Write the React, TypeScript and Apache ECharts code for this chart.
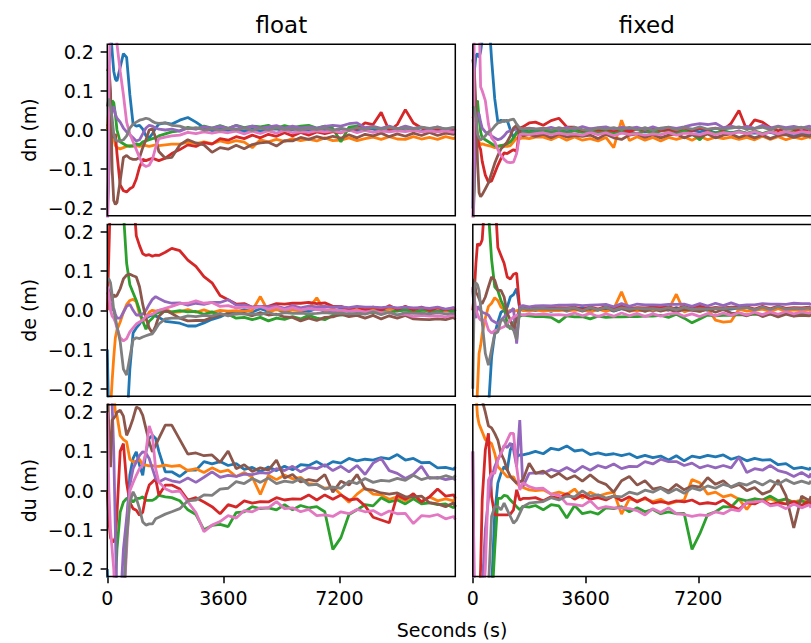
import React, { useEffect, useRef } from "react";
import * as echarts from "echarts";

// time stamps (s) shared by every series
const TIME_S = [
  0, 50, 100, 150, 200, 250, 300, 400, 500, 600, 700, 800, 900, 1000, 1100, 1200, 1300, 1400, 1500, 1600, 1800, 2000,
  2250, 2500, 2750, 3000, 3250, 3500, 3750, 4000, 4250, 4500, 4750, 5000, 5250, 5500, 5750, 6000, 6250, 6500, 6750, 7000,
  7250, 7500, 7750, 8000, 8250, 8500, 8750, 9000, 9250, 9500, 9750, 10000, 10250, 10500, 10750, 10800,
];

const COLUMN_TITLES = ["float", "fixed"];
const ROW_LABELS = ["dn (m)", "de (m)", "du (m)"];
const X_TICKS = [0, 3600, 7200];
const Y_TICKS = [-0.2, -0.1, 0, 0.1, 0.2];
const X_LABEL = "Seconds (s)";
const COLORS = ["#1f77b4", "#ff7f0e", "#2ca02c", "#d62728", "#9467bd", "#8c564b", "#e377c2", "#7f7f7f"];

// values in millimetres, one row per colour (blue, orange, green, red, purple, brown, pink, gray)
const FLOAT_DN_MM = [
  [300,300,260,200,150,130,125, 160,195,185,90,15, 10,12,2,-15,-20, -10,5,15,18,15, 25,32,20,6, -2,3,-3,2, -4,2,-3,1, 3,-2,1,4, -3,2,-1,-4, 3,-1,-2,4, 2,-3,-1,3, -2,1,-3,2, -1,3,-2,1],
  [0,60,40,10,-20,-40,-45, -48,-45,-42,-40,-42, -40,-42,-38,-40,-42, -40,-38,-40,-38,-36, -36,-31,-35,-30, -35,-28,-33,-27, -31,-45,-25,-30, -24,-29,-22,-27, -23,-28,-20,-27, -26,-20,-27,-22, -18,-24,-17,-23, -24,-17,-23,-19, -24,-17,-22,-19],
  [-200,-100,40,75,70,40,0, -30,-35,-40,-42,-40, -35,-38,-30,-28,-25, -22,-20,-15,-10,-5, -2,7,3,10, 5,11,4,12, 6,10,8,12, 4,11,6,10, 12,5,10,4, -30,7,10,4, 7,3,8,2, 8,2,7,1, 6,0,5,2],
  [10,15,5,-10,-20,-10,-60, -140,-155,-158,-150,-145, -125,-95,-75,-78,-75, -72,-75,-78,-72,-60, -50,-38,-42,-32, -36,-22,-26,-17, -22,-13,-20,-11, -16,-7,-15,-6, -13,-5,-9,-4, -7,0,3,18, 14,45,-2,14, 52,18,5,-4, 3,-5,4,-2],
  [-250,-100,20,50,60,40,30, 20,5,-5,-12,-20, -28,-25,-10,5,12, 10,5,2,0,2, -3,5,2,8, 5,9,4,11, 4,10,5,8, 11,4,10,5, 8,4,9,12, 10,16,18,6, 9,4,10,3, 10,4,7,2, 8,1,6,3],
  [150,160,100,-100,-180,-190,-185, -130,-70,-65,-72,-75, -75,-70,-45,-25,0, 3,-20,-55,-72,-70, -38,-25,-33,-38, -57,-45,-49,-39, -48,-37,-33,-31, -41,-27,-28,-19, -24,-17,-22,-16, -21,-12,-20,-11, -15,-8,-17,-10, -16,-8,-14,-6, -14,-8,-11,-8],
  [-300,100,300,300,300,280,220, 150,90,20,-10,-30, -50,-70,-88,-93,-90, -75,-45,-22,-18,-15, -13,-6,-9,-5, -8,-4,-7,-3, -10,-3,-9,-2, -8,-1,-7,-4, -6,-2,-5,-2, -6,0,-7,-1, -6,-2,-5,-2, -4,-1,-5,-2, -5,-2,-6,-3],
  [60,80,60,30,-10,-25,-28, -28,-25,-15,5,15, 20,25,27,30,28, 22,18,17,18,12, 10,3,6,0, 3,0,4,1, 5,-1,5,0, 6,1,3,0, 4,1,5,-1, 5,0,6,1, 7,2,7,3, 5,3,7,4, 7,3,7,4],
];

const FIXED_DN_MM = [
  [-200,150,190,195,185,200,230, 300,300,180,80,20, 25,22,25,0,-20, -5,0,-2,2,-3, 3,-4,2,-3, 3,-3,-5,1, -4,2,-4,0, 2,-5,-1,2, -4,1,-6,-1, -5,0,-7,-2, -7,-4,-8,-7, -9,-6,-11,-8, -13,-10,-14,-11],
  [30,40,20,-10,-30,-38,-35, -38,-40,-42,-45,-42, -40,-42,-42,-40,-30, -20,-22,-20,-22,-18, -18,-25,-16,-26, -18,-26,-22,-28, -19,-45,25,-27, -17,-26,-19,-28, -19,-24,-18,-26, -16,-25,-18,-22, -18,-24,-19,-25, -16,-24,-17,-25, -18,-23,-17,-22],
  [-250,-150,70,75,30,-5,-20, -25,-30,-35,-40,-42, -40,-38,-35,-30,-20, -8,-5,-6,-4,-6, -2,-7,-1,-8, -2,-6,-3,-7, -4,-8,-2,-6, -9,-2,-8,-3, -1,-8,-2,-10, -25,-4,-8,-3, -8,-3,-9,-2, -9,-3,-10,-4, -7,-4,-8,-3],
  [10,5,-5,-20,-40,-50,-80, -115,-133,-130,-110,-90, -73,-58,-60,-55,-50, -55,5,8,18,20, 12,24,30,8, 7,-1,3,0, 2,-2,3,-4, 3,0,4,-1, 2,-2,5,-1, 4,1,5,0, 17,50,0,26, 20,6,-2,4, 1,-2,2,0],
  [-250,-100,30,45,40,20,5, -5,-10,-15,-20,-25, -22,-15,-5,-2,0, 3,4,2,5,3, 2,7,1,7, 2,9,3,6, 8,2,7,4, 7,1,8,2, 7,4,8,13, 16,14,17,6, 10,5,9,4, 12,5,10,6, 9,5,10,7],
  [180,150,60,-80,-160,-170,-165, -150,-135,-110,-85,-65, -48,-40,-30,-15,5, 12,-10,-15,-12,-16, -11,-20,-10,-18, -14,-16,-13,-22, -11,-20,-24,-13, -10,-19,-12,-20, -13,-10,-20,-12, -18,-10,-20,-13, -10,-19,-12,-20, -13,-22,-14,-12, -19,-13,-16,-13],
  [-300,300,300,300,300,110,100, 75,15,-20,-30,-50, -65,-75,-82,-83,-82, -60,-12,-10,-12,-9, -7,-12,-8,-11, -10,-13,-6,-12, -7,-14,-8,-11, -9,-13,-10,-12, -6,-13,-8,-9, -12,-6,-12,-7, -9,-5,-10,-4, -11,-5,-10,-4, -9,-4,-7,-5],
  [60,55,30,-10,-20,-25,-22, -15,-5,0,10,18, 20,25,22,26,28, 15,5,3,4,2, 5,0,6,1, 7,1,-1,5, 2,6,1,7, 0,6,-1,5, 7,0,6,2, 8,2,4,3, 5,8,2,4, 7,1,8,2, 4,7,2,5],
];

const FLOAT_DE_MM = [
  [-100,-300,-300,-300,-300,-300,-300, -300,-300,-300,-150,-58, -45,-35,-22,-20,-15, -12,-15,-18,-28,-30, -33,-40,-40,-32, -23,-17,-6,-5, 2,-4,4,-3, 3,-5,2,0, -3,5,-2,-4, 4,-2,1,1, 3,-4,4,-2, 1,-1,5,-4, 2,0,3,-2],
  [-300,-300,-250,-180,-120,-70,-50, -30,-5,15,25,28, 22,-10,-28,-20,-5, 0,-2,0,3,-5, -4,2,-5,1, -6,0,-2,-1, -3,0,35,-3, 2,0,1,-1, 5,32,-2,4, -3,3,1,2, 4,-3,3,1, 2,0,1,-1, 4,-2,5,0],
  [300,300,300,300,300,300,300, 300,250,120,65,45, 25,0,-28,-48,-28, -20,-9,-5,-3,-4, -1,-4,-3,-10, -4,-12,-10,-20, -18,-24,-18,-27, -20,-23,-16,-22, -13,-20,-24,-13, -12,-10,-10,-4, -7,0,-7,-1, 2,-6,0,0, -5,2,-4,1],
  [0,150,300,300,300,300,300, 300,300,300,300,300, 190,165,144,140,142, 138,141,140,148,158, 152,128,112,86, 70,38,27,16, 17,8,10,10, 17,16,18,18, 20,17,19,10, 10,3,9,1, 8,0,12,2, 10,1,8,0, 7,1,6,2],
  [60,50,20,0,5,-10,-20, -20,-5,10,15,0, -12,-12,-10,0,15, 28,35,30,22,18, 19,13,18,15, 20,20,27,13, 14,8,10,9, 11,5,12,6, 11,9,10,8, 9,7,10,8, 8,7,9,6, 8,6,7,5, 8,3,7,4],
  [40,50,35,25,40,35,38, 55,80,90,92,88, 85,60,15,-20,-45, -58,-40,-15,0,-8, -20,-27,-26,-26, -18,-12,-10,-10, -8,-14,-6,-12, -10,-17,-18,-27, -20,-26,-18,-17, -10,-16,-13,-20, -13,-22,-14,-20, -13,-22,-23,-24, -22,-24,-18,-23],
  [60,40,0,-15,-20,-30,-45, -70,-78,-72,-55,-45, -35,-30,-25,-15,-12, -10,-5,0,5,10, 17,18,24,18, 20,10,12,6, 8,6,9,3, 8,2,7,1, 4,2,2,0, 0,-2,-1,-4, -3,-6,-6,-12, -10,-16,-13,-15, -14,-17,-12,-17],
  [80,80,70,40,0,-20,-40, -80,-150,-165,-120,-75, -70,-72,-68,-65,-62, -60,-48,-35,-22,-20, -20,-14,-16,-13, -14,-8,-14,-8, -10,-9,-11,-5, -12,-6,-8,-7, -9,-8,-6,-8, -7,-9,-8,-10, -4,-11,-5,-12, -6,-8,-7,-9, -6,-9,-7,-10],
];

const FIXED_DE_MM = [
  [-300,-300,-300,-300,-300,-300,-300, -300,-250,-120,-60,-30, -5,0,8,34,40, 55,3,0,2,-1, 4,-3,5,-2, 3,6,0,1, 5,-2,4,3, 3,5,-2,6, 0,7,-1,5, 6,0,7,1, 3,6,8,1, 7,0,6,4, 5,3,6,3],
  [-300,-300,-300,-200,-110,-90,-60, -20,10,18,32,25, 8,2,-3,0,-2, -1,2,0,-2,1, -2,0,-1,1, 0,2,-5,3, -3,4,47,-2, 0,-1,1,0, 2,41,-4,3, -3,4,-25,-30, -28,3,-2,0, 3,-3,4,-2, 1,-1,2,-1],
  [300,300,300,300,300,300,300, 300,250,130,60,50, 25,8,-35,-48,-30, -20,-15,-12,-14,-16, -16,-18,-30,-14, -17,-16,-22,-15, -18,-17,-17,-16, -16,-15,-15,-13, -18,-10,-20,-32, -22,-12,-14,-13, -13,-11,-12,-10, -11,-9,-15,-8, -14,-8,-13,-9],
  [0,50,120,170,165,170,180, 300,300,300,300,160, 140,120,85,80,92, 95,2,5,3,6, 6,5,7,6, 8,2,9,3, 10,4,11,5, 7,6,8,7, 9,3,10,4, 11,5,7,6, 8,8,9,3, 10,4,11,5, 7,6,8,3],
  [50,0,-20,10,5,0,-5, -8,-12,-25,-30,-34, -25,-17,-8,-3,5, -85,10,12,9,11, 12,11,13,13, 14,12,13,14, 15,9,17,10, 16,14,14,13, 15,15,16,10, 17,11,18,12, 19,12,14,14, 17,16,16,15, 18,17,17,14],
  [50,80,45,40,30,20,17, 34,60,85,77,51, 51,34,-8,-25,-51, -20,3,5,2,4, 4,3,3,2, 5,-2,6,0, 7,-1,5,-2, 4,-3,5,-2, 3,-4,2,0, -3,3,-5,2, -7,-8,-14,-6, -16,-9,-17,-10, -15,-13,-14,-12],
  [60,30,0,-10,-20,-25,-25, -25,-50,-58,-52,-50, -45,-42,-34,-25,-17, -13,-10,-12,-9,-11, -10,-12,-11,-13, -7,-14,-8,-16, -9,-15,-7,-14, -8,-16,-9,-15, -10,-7,-15,-9, -16,-8,-14,-7, -13,-6,-12,-5, -11,-4,-10,-3, -9,-4,-7,-4],
  [-200,60,70,65,50,10,-30, -110,-140,-100,-60,-55, -25,-25,-42,-42,-50, -75,3,5,2,4, 5,3,4,4, 6,-1,7,1, 8,0,6,3, 5,4,4,2, 7,1,8,2, 4,3,5,4, 6,5,7,1, 8,2,9,3, 5,4,6,3],
];

const FLOAT_DU_MM = [
  [-200,-300,-300,-300,-300,-300,-300, -300,-300,-100,40,82, 99,65,39,99,133, 141,133,100,48,48, 36,52,52,74, 68,74,64,69, 54,59,48,60, 51,62,53,66, 64,74,62,74, 70,82,76,80, 78,84,81,92, 78,82,71,72, 58,59,54,60],
  [300,300,300,300,250,200,192, 140,130,124,80,73, 75,80,65,65,63, 64,62,62,65,62, 64,51,56,46, 58,48,52,36, 46,34,-10,39, 28,40,30,34, 18,16,6,9, -10,-30,-9,7, -9,-11,-22,-16, -26,-14,-28,-16, -26,-21,-26,-19],
  [-300,-300,-300,-300,-300,-250,-150, -55,-29,-20,-20,-29, -20,-20,-16,-25,-25, -25,-20,-12,-16,-18, -26,-49,-61,-100, -89,-86,-92,-56, -54,-41,-46,-44, -49,-36,-49,-38, -44,-41,-54,-150, -120,-61,-49,-36, -39,-18,-29,-24, -34,-21,-34,-31, -36,-34,-44,-36],
  [0,-80,-120,-130,-130,-120,-60, 100,120,20,-30,-46, -50,-63,-55,-12,14, 22,30,-12,14,14, 4,-24,-18,-29, -41,-59,-36,-42, -26,-32,-28,-29, -18,-24,-21,-22, -11,-24,-11,-22, -11,-24,-21,-39, -68,-75,-82,-11, -22,-8,-29,-16, 4,-14,-11,-19],
  [300,300,280,220,100,-100,-300, -300,-150,-70,14,56, 73,90,99,95,82, 56,31,22,31,25, 21,32,21,34, 48,34,39,36, 42,41,46,44, 56,51,62,48, 59,56,66,51, 62,48,64,41, 70,82,51,44, 31,42,62,31, 34,28,32,26],
  [300,150,60,180,185,190,200, 205,190,141,160,184, 213,209,192,158,124, 99,116,133,167,167, 130,93,96,89, 91,72,101,56, 66,49,58,52, 78,32,41,22, 28,24,41,-4, 24,14,41,4, 1,-6,-9,-6, -16,-16,-14,-31, -34,-41,-31,-42],
  [200,0,-100,-150,-200,-300,-300, -300,-300,-150,0,20, 39,56,65,99,165, 141,56,22,5,-3, -1,-29,-56,-105, -88,-79,-64,-70, -51,-54,-44,-44, -28,-46,-44,-54, -48,-64,-62,-66, -54,-59,-48,-54, -51,-62,-52,-59, -58,-84,-64,-66, -61,-72,-66,-74],
  [-300,-300,-300,-300,-300,-300,-300, -300,-300,-120,-30,-3, -20,-46,-80,-88,-85, -85,-72,-68,-60,-54, -46,-26,-24,-11, -12,4,6,23, 18,31,21,32, 18,24,21,31, 14,16,4,9, 6,24,18,31, 21,26,24,31, 26,39,28,34, 31,38,32,39],
];

const FIXED_DU_MM = [
  [-300,-300,-300,-300,-300,-300,-300, -300,-300,-250,-60,19, 44,61,53,104,120, 87,91,91,95,100, 94,108,104,114, 101,104,92,96, 91,94,89,94, 84,90,84,88, 78,89,76,88, 84,90,86,91, 80,86,76,82, 78,79,66,69, 56,59,54,59],
  [300,300,250,190,170,160,150, 130,125,120,95,61, 53,44,35,35,35, 19,10,8,2,0, 2,-9,-4,-10, 4,-19,-4,-14, -8,-4,-60,-21, -26,-21,-28,-22, -34,-28,-24,28, 20,-9,-4,-16, -11,-22,-48,-21, -26,-21,-28,-22, -29,-24,-31,-24],
  [-300,-300,-300,-300,-300,-300,-300, -300,-300,-300,-150,-20, -20,-12,-14,-24,-32, -41,-49,-40,-42,-38, -49,-36,-39,-70, -38,-59,-54,-60, -44,-46,-41,-54, -44,-54,-48,-59, -54,-59,-58,-150, -110,-61,-54,-41, -42,-21,-26,-21, -24,-14,-26,-21, -32,-26,-36,-26],
  [-300,-300,-300,-300,-300,-200,-24, 104,146,-15,-62,-62, -62,-62,-62,-60,-49, 2,-24,-20,-20,-18, -26,-16,-19,-8, -22,-11,-22,-18, -24,-14,-26,-16, -29,-18,-32,-28, -32,-26,-29,-24, -34,-31,-34,-24, -39,-48,-31,-34, -24,-36,-31,-34, -28,-38,-26,-35],
  [100,-300,-300,-300,-300,-300,-250, -100,-20,30,61,80, 95,115,110,121,104, 61,180,10,44,45, 44,54,48,59, 48,62,52,64, 58,68,56,62, 61,74,68,80, 74,74,64,70, 58,64,58,64, 58,85,46,56, 52,64,51,46, 36,46,34,44],
  [300,300,300,300,300,250,230, 200,165,160,146,129, 95,78,53,36,27, 19,22,27,70,44, 50,34,44,29, 38,24,40,24, 16,-4,25,36, 14,25,4,8, -1,16,2,12, 9,33,16,25, 8,16,0,8, -9,-1,27,-13, -95,-14,-26,-14],
  [100,-300,-300,-300,-300,-300,-300, -200,27,44,44,78, 95,112,129,146,146, 61,2,20,10,5, 6,-9,-11,-34, -36,-39,-26,-46, -41,-44,-44,-46, -51,-62,-46,-56, -44,-59,-61,-66, -62,-64,-54,-59, -48,-52,-30,-29, -26,-39,-36,-46, -34,-44,-36,-44],
  [-300,-300,-300,-300,-300,-300,-300, -300,-250,-66,-41,-41, -49,-32,-49,-66,-83, -75,-58,-41,-32,-30, -28,-18,-24,-14, -16,-1,-14,-11, -19,-14,-16,-4, -9,1,-4,6, -6,4,-7,7, 1,12,6,16, 10,19,14,24, 14,26,16,28, 18,24,18,25],
];

// layout (pixels)
const FONT = "DejaVu Sans";
const GRID_LEFT = [107.3, 472.8];
const GRID_WIDTH = 348;
const GRID_TOP = [44.15, 224.45, 404.75];
const GRID_HEIGHT = 171.7;
const Y_LIM = 0.219;
const X_MAX = 10800;

const PANEL_DATA = [
  [FLOAT_DN_MM, FIXED_DN_MM],
  [FLOAT_DE_MM, FIXED_DE_MM],
  [FLOAT_DU_MM, FIXED_DU_MM],
];

function fmtY(v: number) {
  const s = Math.abs(v).toFixed(1);
  return v < -1e-9 ? "\u2212" + s : s;
}

export default function App() {
  const ref = useRef<HTMLDivElement>(null);
  useEffect(() => {
    if (!ref.current) return;
    const chart = echarts.init(ref.current, undefined, { renderer: "svg" });
    const grids: any[] = [];
    const xAxes: any[] = [];
    const yAxes: any[] = [];
    const series: any[] = [];
    const graphics: any[] = [];
    const problems: string[] = [];
    const tickLine = { color: "#000", width: 1.5 };
    for (let r = 0; r < 3; r++) {
      for (let c = 0; c < 2; c++) {
        const i = grids.length;
        grids.push({ left: GRID_LEFT[c], top: GRID_TOP[r], width: GRID_WIDTH, height: GRID_HEIGHT, show: false });
        const bottomRow = r === 2;
        xAxes.push({
          type: "value", gridIndex: i, min: 0, max: X_MAX, position: "bottom",
          axisLine: { show: false, onZero: false }, splitLine: { show: false },
          axisTick: { show: bottomRow, customValues: X_TICKS, length: 6.7, lineStyle: tickLine },
          axisLabel: { show: bottomRow, customValues: X_TICKS, margin: 12, color: "#000", fontFamily: FONT, fontSize: 19, formatter: (v: number) => String(v) },
        });
        const leftCol = c === 0;
        yAxes.push({
          type: "value", gridIndex: i, min: -Y_LIM, max: Y_LIM, position: "left",
          axisLine: { show: false, onZero: false }, splitLine: { show: false },
          axisTick: { show: leftCol, customValues: Y_TICKS, length: 6.7, lineStyle: tickLine },
          axisLabel: { show: leftCol, customValues: Y_TICKS, margin: 13.4, color: "#000", fontFamily: FONT, fontSize: 19, formatter: fmtY },
        });
        PANEL_DATA[r][c].forEach((vals, k) => {
          if (vals.length !== TIME_S.length) problems.push(`p${r}${c}s${k}:${vals.length}`);
          series.push({
            type: "line", xAxisIndex: i, yAxisIndex: i,
            data: TIME_S.map((t, j) => [t, vals[j] / 1000]),
            showSymbol: false, symbol: "none", clip: true, silent: true,
            lineStyle: { width: 2.8, color: COLORS[k] }, itemStyle: { color: COLORS[k] },
          });
        });
        graphics.push({
          type: "rect", z: 100, silent: true,
          shape: { x: GRID_LEFT[c], y: GRID_TOP[r], width: GRID_WIDTH, height: GRID_HEIGHT },
          style: { fill: "none", stroke: "#000", lineWidth: 1.5 },
        });
      }
      graphics.push({
        type: "text", x: 29, y: GRID_TOP[r] + GRID_HEIGHT / 2, rotation: Math.PI / 2, z: 100,
        style: { text: ROW_LABELS[r], fill: "#000", fontFamily: FONT, fontSize: 19, align: "center", verticalAlign: "middle" },
      });
    }
    COLUMN_TITLES.forEach((t, c) => {
      graphics.push({
        type: "text", x: GRID_LEFT[c] + GRID_WIDTH / 2, y: 25, z: 100,
        style: { text: t, fill: "#000", fontFamily: FONT, fontSize: 23, align: "center", verticalAlign: "middle" },
      });
    });
    graphics.push({
      type: "text", x: 452, y: 630, z: 100,
      style: { text: X_LABEL, fill: "#000", fontFamily: FONT, fontSize: 19, align: "center", verticalAlign: "middle" },
    });
    if (problems.length) {
      graphics.push({ type: "text", x: 5, y: 5, z: 200, style: { text: "LEN " + problems.join(" "), fill: "red", fontSize: 12 } });
    }
    chart.setOption({
      animation: false,
      backgroundColor: "#fff",
      grid: grids, xAxis: xAxes, yAxis: yAxes, series, graphic: graphics,
    });
    return () => chart.dispose();
  }, []);
  return <div ref={ref} style={{ position: "fixed", left: 0, top: 0, width: 811, height: 643, background: "#fff" }} />;
}
